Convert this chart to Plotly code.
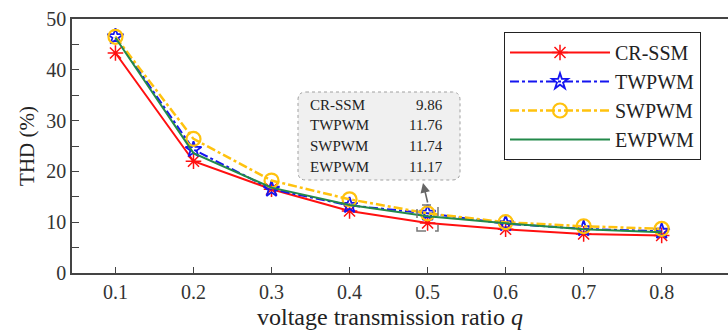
import plotly.graph_objects as go

q = [0.1, 0.2, 0.3, 0.4, 0.5, 0.6, 0.7, 0.8]
cr_ssm = [43.3, 22.0, 16.5, 12.2, 9.86, 8.6, 7.7, 7.4]
twpwm = [46.5, 24.3, 16.5, 13.3, 11.76, 9.7, 8.7, 8.2]
swpwm = [46.5, 26.4, 18.2, 14.5, 11.74, 10.0, 9.2, 8.7]
ewpwm = [46.3, 23.6, 16.8, 13.4, 11.17, 9.8, 8.6, 8.0]
names = ["CR-SSM", "TWPWM", "SWPWM", "EWPWM"]
box_vals = ["9.86", "11.76", "11.74", "11.17"]
x_ticks = [0.1, 0.2, 0.3, 0.4, 0.5, 0.6, 0.7, 0.8]
y_ticks = [0, 10, 20, 30, 40, 50]

FONT = "Liberation Serif"
W, H = 728, 331
L, R, T, B = 72, 0, 19, 58
XR = [0.0443, 0.885]
YR = [0, 50]
PW, PH = W - L - R, H - T - B

def px_x(px):
    return XR[0] + (px - L) / PW * (XR[1] - XR[0])

def px_y(py):
    return YR[0] + (H - B - py) / PH * (YR[1] - YR[0])

fig = go.Figure()
fig.add_trace(go.Scatter(x=q, y=cr_ssm, name=names[0], mode="lines+markers",
                         line=dict(color="#FF1010", width=2),
                         marker=dict(symbol="asterisk-open", size=13, color="#FF1010",
                                     line=dict(color="#FF1010", width=1.5))))
fig.add_trace(go.Scatter(x=q, y=twpwm, name=names[1], mode="lines+markers",
                         line=dict(color="#1515F0", width=2, dash="dashdot"),
                         marker=dict(symbol="star-open", size=12, color="#1515F0",
                                     line=dict(color="#1515F0", width=1.8))))
fig.add_trace(go.Scatter(x=q, y=swpwm, name=names[2], mode="lines+markers",
                         line=dict(color="#FFC20E", width=2.5, dash="dashdot"),
                         marker=dict(symbol="circle-open", size=14, color="#FFC20E",
                                     line=dict(color="#FFC20E", width=2.2))))
fig.add_trace(go.Scatter(x=q, y=ewpwm, name=names[3], mode="lines",
                         line=dict(color="#23894A", width=2)))

shapes = []
x0, x1, y0, y1, r = 298, 460, 92, 180, 8
path = (f"M{px_x(x0 + r)},{px_y(y0)} L{px_x(x1 - r)},{px_y(y0)} "
        f"Q{px_x(x1)},{px_y(y0)} {px_x(x1)},{px_y(y0 + r)} "
        f"L{px_x(x1)},{px_y(y1 - r)} Q{px_x(x1)},{px_y(y1)} {px_x(x1 - r)},{px_y(y1)} "
        f"L{px_x(x0 + r)},{px_y(y1)} Q{px_x(x0)},{px_y(y1)} {px_x(x0)},{px_y(y1 - r)} "
        f"L{px_x(x0)},{px_y(y0 + r)} Q{px_x(x0)},{px_y(y0)} {px_x(x0 + r)},{px_y(y0)} Z")
shapes.append(dict(type="path", path=path, xref="x", yref="y",
                   fillcolor="#F0F0F0", line=dict(color="#A0A0A0", width=1, dash="dot"), layer="above"))
shapes.append(dict(type="rect", xref="x", yref="y",
                   x0=px_x(417), x1=px_x(438), y0=px_y(231), y1=px_y(205),
                   line=dict(color="#777777", width=1.5, dash="dash"), layer="above"))

annotations = []
row_y = [105, 125, 146, 167]
for n, v, ry in zip(names, box_vals, row_y):
    annotations.append(dict(x=px_x(308), y=px_y(ry), xref="x", yref="y", text=n, showarrow=False,
                            xanchor="left", yanchor="middle", font=dict(family=FONT, size=15, color="#222")))
    annotations.append(dict(x=px_x(445), y=px_y(ry), xref="x", yref="y", text=v, showarrow=False,
                            xanchor="right", yanchor="middle", font=dict(family=FONT, size=15, color="#222")))
annotations.append(dict(x=px_x(423), y=px_y(183), xref="x", yref="y", ax=5, ay=21, text="",
                        showarrow=True, arrowhead=2, arrowsize=1.2, arrowwidth=1.6, arrowcolor="#666666",
                        standoff=0, startstandoff=0))
annotations.append(dict(x=(390 - L) / PW, y=(H - B - 317) / PH, xref="paper", yref="paper",
                        text="voltage transmission ratio <i>q</i>", xanchor="center", yanchor="middle",
                        showarrow=False, font=dict(family=FONT, size=24, color="#222")))

fig.update_layout(
    width=W, height=H, margin=dict(l=L, r=R, t=T, b=B, pad=0),
    paper_bgcolor="white", plot_bgcolor="white",
    font=dict(family=FONT, color="#333"),
    shapes=shapes, annotations=annotations,
    showlegend=True,
    legend=dict(x=(504 - L) / PW, y=1 - (32 - T) / PH, xanchor="left", yanchor="top",
                bordercolor="#222", borderwidth=1, bgcolor="white",
                font=dict(family=FONT, size=20, color="#222"), itemwidth=100),
    xaxis=dict(range=XR, tickvals=x_ticks, ticktext=[f"{v:.1f}" for v in x_ticks],
               showgrid=False, zeroline=False, showline=True, linecolor="#444", linewidth=1.5,
               mirror=True, ticks="inside", ticklen=6, tickwidth=1.2, tickcolor="#444",
               tickfont=dict(family=FONT, size=20, color="#333")),
    yaxis=dict(range=YR, tickvals=y_ticks, showgrid=False, zeroline=False, showline=True,
               linecolor="#444", linewidth=1.5, ticks="inside", ticklen=7, tickwidth=1.2, tickcolor="#444",
               minor=dict(dtick=5, ticks="inside", ticklen=7, tickwidth=1.2, tickcolor="#444", showgrid=False),
               tickfont=dict(family=FONT, size=20, color="#333"),
               title=dict(text="THD (%)", font=dict(family=FONT, size=21, color="#222"), standoff=6)),
)

fig.write_html("out.html")
